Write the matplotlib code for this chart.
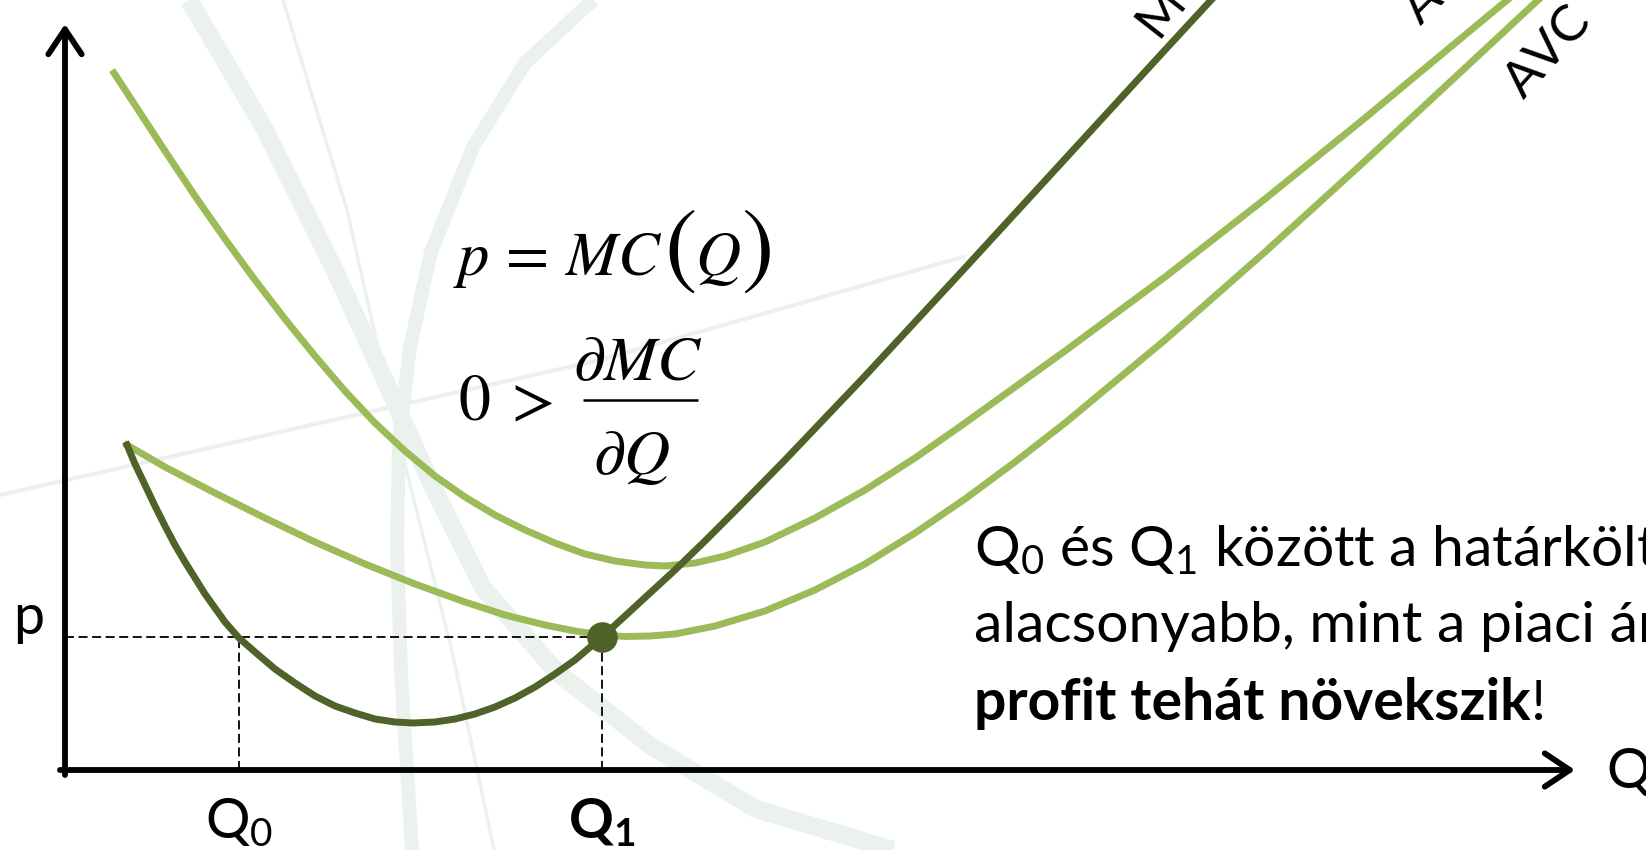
import matplotlib
matplotlib.use("Agg")
import matplotlib.pyplot as plt

plt.rcParams['font.family'] = ['Lato', 'DejaVu Sans']
plt.rcParams['mathtext.fontset'] = 'custom'
plt.rcParams['mathtext.rm'] = 'Lato'
plt.rcParams['mathtext.it'] = 'Lato:italic'
plt.rcParams['mathtext.bf'] = 'Lato:bold'

# curves (quantity Q, cost)
mc_q = [6.2, 7.0, 8.0, 9.0, 10.0, 11.0, 12.0, 13.0, 14.0, 15.0, 16.0, 17.4, 19.0, 21.0,
        23.0, 25.0, 27.0, 29.0, 31.0, 33.0, 34.8, 37.0, 39.0, 41.0, 43.0, 45.0, 47.0,
        49.0, 51.0, 53.7, 56.0, 58.5, 61.0, 64.0, 67.0, 72.0, 80.0, 90.0, 100.0,
        110.0, 116.0]
mc_c = [32.5, 30.6, 28.5, 26.4, 24.4, 22.5, 20.8, 19.2, 17.6, 16.2, 14.8, 13.2, 11.8, 10.1,
        8.7, 7.4, 6.4, 5.7, 5.1, 4.8, 4.7, 4.8, 5.1, 5.6, 6.3, 7.2, 8.3,
        9.6, 11.0, 13.3, 15.4, 17.7, 20.0, 22.9, 25.9, 31.0, 39.4, 50.2, 61.1,
        72.0, 78.5]

ac_q = [4.9, 7.0, 10.0, 13.0, 16.0, 19.0, 22.0, 25.0, 28.0, 31.0, 34.0, 37.0, 40.0,
        43.0, 46.0, 49.0, 52.0, 55.0, 58.0, 60.0, 63.0, 66.0, 70.0, 75.0, 80.0, 85.0,
        90.0, 100.0, 110.0, 120.0, 130.0, 140.0, 147.0]
ac_c = [69.7, 66.5, 61.9, 57.4, 53.1, 49.0, 45.1, 41.4, 37.9, 34.7, 31.9, 29.4, 27.3,
        25.5, 24.0, 22.7, 21.6, 20.9, 20.5, 20.4, 20.7, 21.4, 22.8, 25.2, 28.0, 31.2,
        34.7, 41.9, 49.3, 57.1, 65.2, 73.5, 79.3]

avc_q = [6.2, 10.0, 15.0, 20.0, 25.0, 30.0, 35.0, 40.0, 44.0, 48.0, 51.0, 53.7, 56.0,
         58.5, 61.0, 65.0, 70.0, 75.0, 80.0, 85.0, 90.0, 95.0, 100.0, 110.0, 120.0,
         130.0, 140.0, 150.0]
avc_c = [32.5, 30.3, 27.7, 25.2, 22.8, 20.6, 18.6, 16.8, 15.5, 14.5, 13.9, 13.5, 13.35,
         13.4, 13.6, 14.4, 15.9, 18.0, 20.6, 23.7, 27.1, 30.8, 34.7, 43.0, 51.8,
         60.9, 70.2, 79.5]

q0, q1, price = 17.4, 53.7, 13.3

curve_labels = ["MC", "AC", "AVC"]
label_pos = [(110.7, 77.2, 52), (137.0, 77.8, 45), (148.3, 71.8, 48)]

text_lines = [r'Q$_0$ és Q$_1$ között a határköltség',
              'alacsonyabb, mint a piaci ár, a',
              'profit tehát növekszik']

# faint background logo strokes
band_q = [12.4, 19.8, 27.1, 32.4, 36.6, 41.8, 49.2, 58.6, 69.1, 82.8]
band_c = [77.0, 64.4, 49.7, 38.1, 28.7, 18.2, 9.8, 2.4, -3.9, -8.0]
arc_q = [52.8, 46.0, 40.8, 36.6, 34.5, 33.4, 33.2, 33.6, 34.7]
arc_c = [77.0, 70.7, 62.3, 51.8, 42.3, 32.9, 22.4, 9.8, -8.0]
thin_q = [21.8, 28.2, 33.4, 38.7, 42.9]
thin_c = [77.0, 56.0, 32.9, 11.9, -8.0]
flat_q = [-6.5, 53.5, 89.8]
flat_c = [27.5, 41.0, 51.3]

dark = '#4F6228'
light = '#9BBB59'
wm = '#EBF2ED'

fig = plt.figure(figsize=(16.46, 8.5), dpi=100)
ax = fig.add_axes([0, 0, 1, 1])
ax.set_xlim(-6.5, 158.1)
ax.set_ylim(-8.0, 77.0)
ax.axis('off')

ax.plot(band_q, band_c, color=wm, lw=13, solid_capstyle='butt', zorder=0)
ax.plot(arc_q, arc_c, color=wm, lw=10, solid_capstyle='butt', zorder=0)
ax.plot(thin_q, thin_c, color=wm, lw=2.5, zorder=0)
ax.plot(flat_q, flat_c, color=wm, lw=3, zorder=0)

# axes with open arrow heads
arrow = dict(arrowstyle='->, head_length=0.6, head_width=0.4', lw=4.2,
             color='black', shrinkA=0, shrinkB=0, mutation_scale=30)
ax.annotate('', xy=(0, 74.6), xytext=(0, -0.5), arrowprops=arrow, zorder=3)
ax.annotate('', xy=(151.0, 0), xytext=(-0.5, 0), arrowprops=arrow, zorder=3)

# dashed guides
ax.plot([0, q1], [price, price], color='black', lw=1.3, dashes=(5, 2.5), zorder=2)
ax.plot([q0, q0], [0, price], color='black', lw=1.3, dashes=(5, 2.5), zorder=2)
ax.plot([q1, q1], [0, price], color='black', lw=1.3, dashes=(5, 2.5), zorder=2)

ax.plot(ac_q, ac_c, color=light, lw=5, solid_joinstyle='round', zorder=4)
ax.plot(avc_q, avc_c, color=light, lw=5, solid_joinstyle='round', zorder=4)
ax.plot(mc_q, mc_c, color=dark, lw=5, solid_joinstyle='round', zorder=5)
ax.plot([q1], [price], 'o', color=dark, ms=21, zorder=6)

for name, (x, y, rot) in zip(curve_labels, label_pos):
    ax.text(x, y, name, fontsize=37, rotation=rot, rotation_mode='anchor',
            ha='center', va='center', zorder=7)

ax.text(-3.6, 13.6, 'p', fontsize=40, ha='center', va='baseline')
ax.text(q0, -2.6, r'$\mathrm{Q}_\mathrm{0}$', fontsize=40, ha='center', va='top')
ax.text(q1, -2.6, r'$\mathbf{Q}_\mathbf{1}$', fontsize=40, ha='center', va='top')
ax.text(154.1, -0.2, 'Q', fontsize=40, ha='left', va='center')

# formulas: p = MC(Q) with tall brackets, chained left to right
f1 = ax.text(38.8, 49.5, r'$p\,=\,MC$', fontsize=45, math_fontfamily='stix',
             ha='left', va='baseline')
lp = ax.annotate(r'$($', xy=(1, 51.9), xycoords=(f1, 'data'), xytext=(1, 0),
                 textcoords='offset points', fontsize=70, math_fontfamily='stix',
                 ha='left', va='center')
fq = ax.annotate(r'$Q$', xy=(1, 49.5), xycoords=(lp, 'data'), xytext=(0, 0),
                 textcoords='offset points', fontsize=45, math_fontfamily='stix',
                 ha='left', va='baseline')
ax.annotate(r'$)$', xy=(1, 51.9), xycoords=(fq, 'data'), xytext=(0, 0),
            textcoords='offset points', fontsize=70, math_fontfamily='stix',
            ha='left', va='center')

ax.text(39.3, 35.0, r'$0\;>$', fontsize=46, math_fontfamily='stix', ha='left', va='baseline')
ax.text(57.3, 39.0, r'$\partial MC$', fontsize=46, math_fontfamily='stix',
        ha='center', va='baseline')
ax.plot([51.8, 63.3], [37.0, 37.0], color='black', lw=1.8, solid_capstyle='butt')
ax.text(56.6, 29.6, r'$\partial Q$', fontsize=46, math_fontfamily='stix',
        ha='center', va='baseline')

# explanation text, clipped by the right edge like the slide crop
ax.text(90.9, 20.5, text_lines[0], fontsize=41, ha='left', va='baseline')
ax.text(90.9, 12.8, text_lines[1], fontsize=41, ha='left', va='baseline')
bold = ax.text(90.9, 5.0, text_lines[2], fontsize=41, fontweight='bold',
               ha='left', va='baseline')
ax.annotate('!', xy=(1, 0), xycoords=bold, fontsize=41, ha='left', va='bottom')

fig.savefig('out.png', dpi=100)
